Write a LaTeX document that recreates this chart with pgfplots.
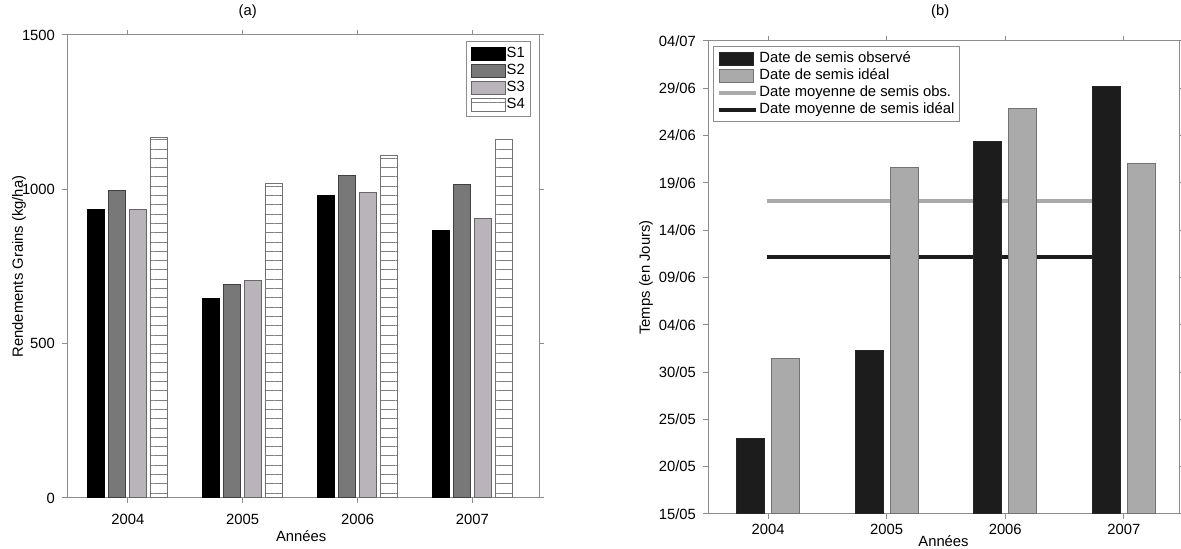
\documentclass[border=0pt]{standalone}
\usepackage{fontspec}
\setmainfont{Liberation Sans}
\usepackage{pgfplots}
\pgfplotsset{compat=1.18}
\usetikzlibrary{patterns.meta}
\definecolor{axgray}{RGB}{140,140,140}
\definecolor{stwo}{RGB}{120,120,120}
\definecolor{sthree}{RGB}{184,180,186}
\definecolor{obs}{RGB}{28,28,28}
\definecolor{ideal}{RGB}{170,170,170}
\newcommand{\myfont}{\fontsize{7.4}{8.5}\selectfont}
\pgfplotsset{
  mystyle/.style={
    scale only axis,
    axis line style={draw=axgray, line width=0.5pt},
    every tick/.style={draw=axgray, line width=0.5pt},
    tick align=outside, major tick length=2.5pt,
    xtick pos=both, ytick pos=both,
    ticklabel style={font=\myfont, text=black},
    label style={font=\myfont},
    title style={font=\myfont},
    /pgf/number format/assume math mode=true,
    /pgf/number format/1000 sep={},
    scaled ticks=false,
    legend cell align=left,
    legend style={font=\myfont, draw=axgray, line width=0.5pt, inner sep=2pt,
      nodes={inner sep=0.6pt, text height=5.4pt, text depth=1.5pt}, row sep=0.4pt},
  },
  barleg/.style={legend image code/.code={\draw[##1] (0pt,-3.25pt) rectangle (17pt,3.25pt);}},
  lineleg/.style={legend image code/.code={\draw[##1] (0pt,0pt) -- (18.5pt,0pt);}},
}
\begin{document}
\begin{tikzpicture}
\useasboundingbox (0,0) rectangle (590.5pt,274.5pt);
% ---------------- (a)
\begin{axis}[mystyle,
  at={(33.5pt,25.5pt)}, anchor=south west,
  width=236pt, height=231.5pt,
  xmin=0.47, xmax=4.58, ymin=0, ymax=1500,
  xtick={1,2,3,4}, xticklabels={2004,2005,2006,2007},
  ytick={0,500,1000,1500},
  xticklabel style={yshift=-2pt},
  xlabel={Années}, ylabel={Rendements Grains (kg/ha)},
  xlabel style={at={(axis description cs:0.496,-0.082)}, anchor=center},
  ylabel style={at={(axis description cs:-0.1017,0.5)}, anchor=center},
  title={(a)}, title style={at={(axis description cs:0.383,1)}, anchor=center, yshift=5.5pt},
  legend style={at={(0.982,0.987)}, anchor=north east},
]
\addplot[ybar, bar width=0.148, bar shift=-0.275, fill=black, draw=black, line width=0.5pt, barleg]
  coordinates {(1,936) (2,645) (3,981) (4,865)};
\addlegendentry{S1}
\addplot[ybar, bar width=0.148, bar shift=-0.0917, fill=stwo, draw=black!75, line width=0.5pt, barleg]
  coordinates {(1,995) (2,691) (3,1046) (4,1017)};
\addlegendentry{S2}
\addplot[ybar, bar width=0.148, bar shift=0.0917, fill=sthree, draw=black!60, line width=0.5pt, barleg]
  coordinates {(1,935) (2,706) (3,991) (4,907)};
\addlegendentry{S3}
\addplot[ybar, bar width=0.148, bar shift=0.275, fill=white, draw=black!55, line width=0.5pt,
  postaction={pattern={Lines[distance=4.65pt,angle=0,line width=0.5pt]}, pattern color=black!50}, barleg]
  coordinates {(1,1169) (2,1019) (3,1111) (4,1160)};
\addlegendentry{S4}
\end{axis}
% ---------------- (b)
\begin{axis}[mystyle,
  at={(354pt,17.5pt)}, anchor=south west,
  width=235.5pt, height=236.5pt,
  xmin=0.494, xmax=4.465, ymin=0, ymax=50,
  xtick={1,2,3,4}, xticklabels={2004,2005,2006,2007},
  ytick={0,5,10,15,20,25,30,35,40,45,50},
  yticklabels={15/05,20/05,25/05,30/05,04/06,09/06,14/06,19/06,24/06,29/06,04/07},
  xticklabel style={yshift=1pt},
  xlabel={Années}, ylabel={Temps (en Jours)},
  xlabel style={at={(axis description cs:0.5,-0.057)}, anchor=center},
  ylabel style={at={(axis description cs:-0.1316,0.5)}, anchor=center},
  title={(b)}, title style={at={(axis description cs:0.493,1)}, anchor=center, yshift=8.5pt},
  legend style={at={(0.01,0.989)}, anchor=north west},
]
\addplot[sharp plot, no markers, draw=ideal, line width=2pt, forget plot]
  coordinates {(0.989,33.1) (3.97,33.1)};
\addplot[sharp plot, no markers, draw=obs, line width=2pt, forget plot]
  coordinates {(0.989,27.2) (3.97,27.2)};
\addplot[ybar, bar width=0.236, bar shift=-0.147, fill=obs, draw=black!85, line width=0.5pt, barleg]
  coordinates {(1,8.0) (2,17.3) (3,39.4) (4,45.2)};
\addlegendentry{Date de semis observé}
\addplot[ybar, bar width=0.236, bar shift=0.147, fill=ideal, draw=black!55, line width=0.5pt, barleg]
  coordinates {(1,16.4) (2,36.6) (3,42.9) (4,37.1)};
\addlegendentry{Date de semis idéal}
\addlegendimage{lineleg, draw=ideal, line width=2pt}
\addlegendentry{Date moyenne de semis obs.}
\addlegendimage{lineleg, draw=obs, line width=2pt}
\addlegendentry{Date moyenne de semis idéal}
\end{axis}
\end{tikzpicture}
\end{document}
